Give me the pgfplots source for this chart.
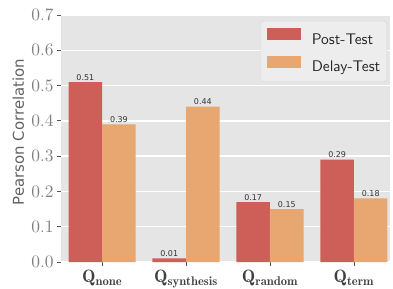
\documentclass[border=0pt]{standalone}
\usepackage{pgfplots}
\pgfplotsset{compat=1.18}
\usepackage{fontspec}
\newfontfamily\dv{DejaVu Sans}
\DeclareFontShape{OT1}{cmr}{m}{n}{<->cmr10}{}
\DeclareFontShape{OT1}{cmr}{bx}{n}{<->cmbx10}{}
\DeclareFontFamily{OT1}{cmss}{\hyphenchar\font45}
\DeclareFontShape{OT1}{cmss}{m}{n}{<->cmss10}{}
\newcommand\cmss{\fontencoding{OT1}\fontfamily{cmss}\fontseries{m}\fontshape{n}\selectfont}
\definecolor{bggray}{HTML}{E5E5E5}
\definecolor{postc}{HTML}{CD5E58}
\definecolor{delayc}{HTML}{E8A770}
\definecolor{tickc}{HTML}{555555}
\begin{document}
\begin{tikzpicture}
\begin{axis}[
  width=329bp, height=247bp, scale only axis,
  xmin=-0.49, xmax=3.43, ymin=0, ymax=0.7,
  axis background/.style={fill=bggray},
  axis line style={draw=none},
  ymajorgrids, major grid style={white, line width=1.3bp},
  xtick={0,1,2,3},
  xticklabels={$\mathbf{Q}_{\mathbf{none}}$,$\mathbf{Q}_{\mathbf{synthesis}}$,$\mathbf{Q}_{\mathbf{random}}$,$\mathbf{Q}_{\mathbf{term}}$},
  ytick={0,0.1,0.2,0.3,0.4,0.5,0.6,0.7},
  yticklabel style={/pgf/number format/fixed, /pgf/number format/fixed zerofill, /pgf/number format/precision=1},
  tick align=outside, major tick length=3.5bp,
  tick style={color=tickc, line width=0.8bp},
  xtick pos=bottom, ytick pos=left,
  yticklabel style={font=\fontsize{17.5}{20}\selectfont, color=black!50, xshift=-0.5bp},
  xticklabel style={font=\fontsize{18}{20}\selectfont, color=black!75, yshift=-1bp},
  ylabel={Pearson Correlation},
  ylabel style={font=\dv\fontsize{15}{17}\selectfont, color=black!62, at={(axis description cs:-0.13,0.526)}, anchor=center, rotate=0},
  ybar, bar width=0.4,
  nodes near coords,
  nodes near coords style={font=\dv\fontsize{8}{9}\selectfont, color=black!80, inner sep=1.5bp},
  point meta=explicit symbolic,
  legend style={at={(0.991,0.9757)}, anchor=north east, fill=bggray!70!white, draw=black!17, rounded corners=3bp,
    font=\cmss\fontsize{15.5}{17}\selectfont, text=black!85, row sep=8.5bp, inner xsep=6.5bp, inner ysep=7bp,
    nodes={inner sep=0pt, text height=11bp, text depth=3bp},
    /tikz/every odd column/.style={column sep=11bp}},
  legend image code/.code={\fill[#1, sharp corners] (0bp,0bp) rectangle (34bp,12bp);},
  legend cell align=left,
]
\addplot[fill=postc, draw=none, bar shift=-0.2] coordinates {(0,0.51) [0.51] (1,0.01) [0.01] (2,0.17) [0.17] (3,0.29) [0.29]};
\addplot[fill=delayc, draw=none, bar shift=0.2] coordinates {(0,0.39) [0.39] (1,0.44) [0.44] (2,0.15) [0.15] (3,0.18) [0.18]};
\legend{Post-Test, Delay-Test}
\end{axis}
\pgfresetboundingbox
\path[use as bounding box] (current axis.south west) ++(-61bp,-27bp) rectangle ++(393bp,289bp);
\end{tikzpicture}
\end{document}
